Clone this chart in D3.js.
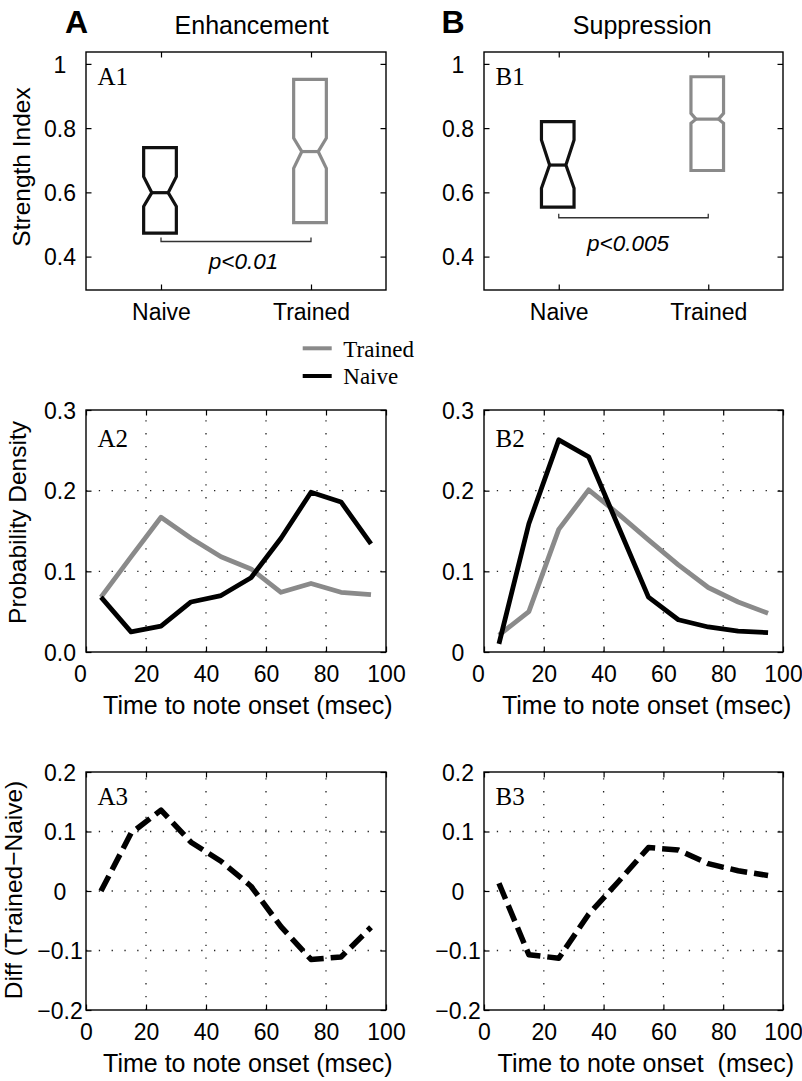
<!DOCTYPE html>
<html><head><meta charset="utf-8">
<script src="https://cdn.jsdelivr.net/npm/d3@7"></script>
<style>body{margin:0;background:#fff} svg{display:block}</style>
</head><body><svg id="c" width="802" height="1081"></svg>
<script>
// ---------- DATA ----------
const groups = ["Naive", "Trained"];
// box stats: [q1, notchLo, median, notchHi, q3]
const enhNaiveBox   = [0.473, 0.556, 0.599, 0.649, 0.739];
const enhTrainedBox = [0.506, 0.675, 0.727, 0.769, 0.952];
const supNaiveBox   = [0.554, 0.613, 0.685, 0.763, 0.820];
const supTrainedBox = [0.668, 0.815, 0.828, 0.846, 0.960];
const enhBracket = 0.447, supBracket = 0.521;
const enhPText = "p<0.01", supPText = "p<0.005";
const strengthTicks = [0.4, 0.6, 0.8, 1];
const strengthLabels = ["0.4", "0.6", "0.8", "1"];

const timeBins = [5, 15, 25, 35, 45, 55, 65, 75, 85, 95];
const enhTrained = [0.068, 0.118, 0.167, 0.141, 0.118, 0.103, 0.074, 0.085, 0.074, 0.071];
const enhNaive   = [0.068, 0.025, 0.032, 0.062, 0.070, 0.092, 0.141, 0.198, 0.186, 0.134];
const supTrained = [0.021, 0.050, 0.152, 0.201, 0.171, 0.139, 0.108, 0.080, 0.062, 0.048];
const supNaive   = [0.010, 0.159, 0.263, 0.242, 0.155, 0.068, 0.040, 0.031, 0.026, 0.024];
const enhDiff = [0.000, 0.097, 0.136, 0.082, 0.050, 0.008, -0.060, -0.115, -0.111, -0.061];
const supDiff = [0.013, -0.107, -0.113, -0.039, 0.016, 0.073, 0.069, 0.046, 0.034, 0.026];

const timeTicks = [0, 20, 40, 60, 80, 100];
const timeLabels = ["0", "20", "40", "60", "80", "100"];
const probTicks = [0, 0.1, 0.2, 0.3];
const enhProbLabels = ["0.0", "0.1", "0.2", "0.3"];
const supProbLabels = ["0", "0.1", "0.2", "0.3"];
const diffTicks = [-0.2, -0.1, 0, 0.1, 0.2];
const diffLabels = ["\u22120.2", "\u22120.1", "0", "0.1", "0.2"];

// ---------- LAYOUT ----------
const svg = d3.select("#c");
const SANS = "'Liberation Sans', Arial, Helvetica, sans-serif";
const SERIF = "'Liberation Serif', 'Times New Roman', serif";
const cols = [{l: 86, r: 386}, {l: 484, r: 783}];
const rows = [{t: 52, b: 290}, {t: 410, b: 652}, {t: 772, b: 1010}];
const GRAY = "#8a8a8a", BLACK = "#000";
const TICKFONT = 23;

function axes(c, r, x, y, yTicks, yLabels, xTicks, xLabels, grid, shiftFirstX) {
  const g = svg.append("g");
  if (grid) {
    const gg = g.append("g").attr("stroke", "#222").attr("stroke-width", 1.3)
      .attr("stroke-dasharray", "1.3,11.5");
    xTicks.filter(v => v > x.domain()[0] && v < x.domain()[1]).forEach(v => {
      gg.append("line").attr("x1", x(v)).attr("x2", x(v)).attr("y1", r.b).attr("y2", r.t);
    });
    yTicks.filter(v => v > y.domain()[0] && v < y.domain()[1]).forEach(v => {
      gg.append("line").attr("x1", c.l).attr("x2", c.r).attr("y1", y(v)).attr("y2", y(v));
    });
  }
  const ts = -5.5;
  const bottom = g.append("g").attr("transform", `translate(0,${r.b})`)
    .call(d3.axisBottom(x).tickValues(xTicks).tickSize(ts).tickFormat((d, i) => xLabels[i]));
  g.append("g").attr("transform", `translate(0,${r.t})`)
    .call(d3.axisTop(x).tickValues(xTicks).tickSize(ts).tickFormat(""));
  const left = g.append("g").attr("transform", `translate(${c.l},0)`)
    .call(d3.axisLeft(y).tickValues(yTicks).tickSize(ts).tickFormat((d, i) => yLabels[i]));
  g.append("g").attr("transform", `translate(${c.r},0)`)
    .call(d3.axisRight(y).tickValues(yTicks).tickSize(ts).tickFormat(""));
  g.selectAll(".domain").remove();
  g.selectAll(".tick line").attr("stroke", "#000").attr("stroke-width", 1.2);
  bottom.selectAll("text").attr("y", 30).attr("dy", null)
    .attr("font-size", TICKFONT).attr("font-family", SANS).attr("fill", "#000")
    .attr("dx", (d, i) => (shiftFirstX && i === 0) ? -6 : 0);
  left.selectAll("text").attr("x", -26).attr("dy", "0.36em").attr("text-anchor", "middle")
    .attr("font-size", TICKFONT).attr("font-family", SANS).attr("fill", "#000");
  g.append("rect").attr("x", c.l).attr("y", r.t).attr("width", c.r - c.l).attr("height", r.b - r.t)
    .attr("fill", "none").attr("stroke", "#000").attr("stroke-width", 1.4);
  return g;
}

function text(x, y, s, size, opts = {}) {
  const t = svg.append("text").attr("x", x).attr("y", y).text(s)
    .attr("font-size", size).attr("font-family", opts.family || SANS)
    .attr("text-anchor", opts.anchor || "start").attr("fill", "#000");
  if (opts.weight) t.attr("font-weight", opts.weight);
  if (opts.style) t.attr("font-style", opts.style);
  if (opts.pre) t.attr("xml:space", "preserve").style("white-space", "pre");
  return t;
}
function ylabel(x, yc, s) {
  svg.append("text").attr("transform", `translate(${x},${yc}) rotate(-90)`)
    .attr("text-anchor", "middle").attr("font-size", 24.5).attr("font-family", SANS)
    .attr("fill", "#000").text(s);
}

// ---------- ROW 1: box plots ----------
const boxSets = [
  {boxes: [enhNaiveBox, enhTrainedBox], br: enhBracket, p: enhPText, pdx: 7.5, pdy: 27.5},
  {boxes: [supNaiveBox, supTrainedBox], br: supBracket, p: supPText, pdx: -5.5, pdy: 33.5}
];
boxSets.forEach((set, ci) => {
  const c = cols[ci], r = rows[0];
  const x = d3.scaleLinear().domain([0.5, 2.5]).range([c.l, c.r]);
  const y = d3.scaleLinear().domain([0.296, 1.037]).range([r.b, r.t]);
  axes(c, r, x, y, strengthTicks, strengthLabels, [1, 2], groups, false, false);
  set.boxes.forEach((b, i) => {
    const [q1, nlo, med, nhi, q3] = b;
    const cx = x(i + 1) - 1, hw = x(1.109) - x(1);
    const ind = Math.min(hw / 2, (y(nlo) - y(nhi)) / 2);
    const col = i === 0 ? "#111" : GRAY;
    const path = d3.path();
    path.moveTo(cx - hw, y(q3)); path.lineTo(cx + hw, y(q3)); path.lineTo(cx + hw, y(nhi));
    path.lineTo(cx + hw - ind, y(med)); path.lineTo(cx + hw, y(nlo)); path.lineTo(cx + hw, y(q1));
    path.lineTo(cx - hw, y(q1)); path.lineTo(cx - hw, y(nlo)); path.lineTo(cx - hw + ind, y(med));
    path.lineTo(cx - hw, y(nhi)); path.closePath();
    svg.append("path").attr("d", path.toString()).attr("fill", "none").attr("stroke", col)
      .attr("stroke-width", 3.2).attr("stroke-linejoin", "miter");
    svg.append("line").attr("x1", cx - hw + ind).attr("x2", cx + hw - ind)
      .attr("y1", y(med)).attr("y2", y(med)).attr("stroke", col).attr("stroke-width", 3.2);
  });
  const by = y(set.br);
  svg.append("path").attr("d", `M${x(1)},${by - 4}V${by}H${x(2)}V${by - 4}`)
    .attr("fill", "none").attr("stroke", "#333").attr("stroke-width", 1.3);
  text((x(1) + x(2)) / 2 + set.pdx, by + set.pdy, set.p, 22.5, {anchor: "middle", style: "italic"});
});

// ---------- ROW 2: probability density ----------
const densSets = [
  {tr: enhTrained, nv: enhNaive, labels: enhProbLabels},
  {tr: supTrained, nv: supNaive, labels: supProbLabels}
];
densSets.forEach((set, ci) => {
  const c = cols[ci], r = rows[1];
  const x = d3.scaleLinear().domain([0, 100]).range([c.l, c.r]);
  const y = d3.scaleLinear().domain([0, 0.3]).range([r.b, r.t]);
  axes(c, r, x, y, probTicks, set.labels, timeTicks, timeLabels, true, true);
  const line = d3.line().x((d, i) => x(timeBins[i])).y(d => y(d));
  svg.append("path").attr("d", line(set.tr)).attr("fill", "none").attr("stroke", GRAY)
    .attr("stroke-width", 4.8).attr("stroke-linejoin", "round");
  svg.append("path").attr("d", line(set.nv)).attr("fill", "none").attr("stroke", BLACK)
    .attr("stroke-width", 4.8).attr("stroke-linejoin", "round");
});

// ---------- ROW 3: differences ----------
[enhDiff, supDiff].forEach((vals, ci) => {
  const c = cols[ci], r = rows[2];
  const x = d3.scaleLinear().domain([0, 100]).range([c.l, c.r]);
  const y = d3.scaleLinear().domain([-0.2, 0.2]).range([r.b, r.t]);
  axes(c, r, x, y, diffTicks, diffLabels, timeTicks, timeLabels, true, false);
  const line = d3.line().x((d, i) => x(timeBins[i])).y(d => y(d));
  svg.append("path").attr("d", line(vals)).attr("fill", "none").attr("stroke", BLACK)
    .attr("stroke-width", 5.5).attr("stroke-dasharray", "17,7").attr("stroke-linejoin", "round");
});

// ---------- TEXT ----------
text(65, 33.3, "A", 32, {weight: "bold"});
text(441.5, 33.3, "B", 32, {weight: "bold"});
text(251.7, 34, "Enhancement", 25, {anchor: "middle"});
text(642.3, 34, "Suppression", 25, {anchor: "middle"});

const panelLabels = [["A1", "B1"], ["A2", "B2"], ["A3", "B3"]];
const plOffsets = [33, 37, 33];
panelLabels.forEach((pair, ri) => pair.forEach((s, ci) => {
  text(cols[ci].l + 11.5, rows[ri].t + plOffsets[ri], s, 25, {family: SERIF});
}));

ylabel(30, 167, "Strength Index");
ylabel(26, 522.5, "Probability Density");
ylabel(22, 890, "Diff (Trained\u2212Naive)");

text(247.8, 714, "Time to note onset (msec)", 25, {anchor: "middle"});
text(646.7, 714, "Time to note onset (msec)", 25, {anchor: "middle"});
text(247.8, 1072, "Time to note onset (msec)", 25, {anchor: "middle"});
text(645.8, 1072, "Time to note onset  (msec)", 25, {anchor: "middle", pre: true});

// ---------- LEGEND ----------
const legendItems = ["Trained", "Naive"];
const legendColors = [GRAY, BLACK];
legendItems.forEach((s, i) => {
  const ly = 348.3 + i * 27.7;
  svg.append("line").attr("x1", 302.7).attr("x2", 331.7).attr("y1", ly).attr("y2", ly)
    .attr("stroke", legendColors[i]).attr("stroke-width", 4);
  text(343.3, ly + 8.2, s, 23, {family: SERIF});
});
</script></body></html>
